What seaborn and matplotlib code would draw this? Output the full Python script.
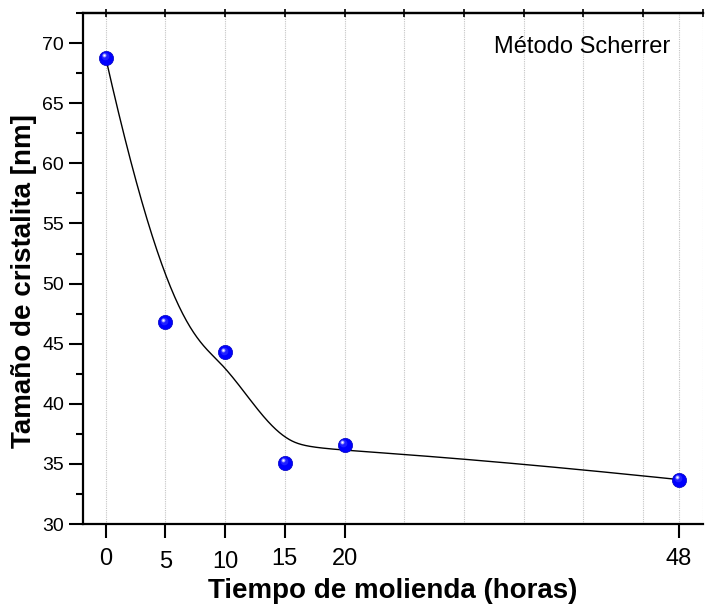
import numpy as np
import pandas as pd
import matplotlib
matplotlib.use("Agg")
import matplotlib.pyplot as plt
import matplotlib.transforms as mtransforms
from matplotlib.ticker import MultipleLocator
import seaborn as sns

# ---- data ----
tiempo_horas = [0, 5, 10, 15, 20, 48]
tamano_nm = [68.8, 46.8, 44.3, 35.1, 36.6, 33.7]
x_tick_labels = ["0", "5", "10", "15", "20", "48"]
y_ticks = [30, 35, 40, 45, 50, 55, 60, 65, 70]
x_label = "Tiempo de molienda (horas)"
y_label = "Tamaño de cristalita [nm]"
anotacion = "Método Scherrer"

sns.set_theme(style="white")
plt.rcParams["font.family"] = ["Liberation Sans", "DejaVu Sans"]
for key in ["text.color", "axes.labelcolor", "xtick.color", "ytick.color", "axes.edgecolor"]:
    plt.rcParams[key] = "black"


def bspline(xc, yc, n=400, k=3):
    """Clamped uniform B-spline using the data points as control points."""
    P = np.column_stack([xc, yc]).astype(float)
    m = len(P)
    inner = np.linspace(0, 1, m - k + 1)[1:-1]
    t = np.concatenate([np.zeros(k + 1), inner, np.ones(k + 1)])
    u = np.linspace(0, 1, n)
    u[-1] = 1 - 1e-12

    def N(i, p, uu):
        if p == 0:
            return np.where((t[i] <= uu) & (uu < t[i + 1]), 1.0, 0.0)
        a = np.zeros_like(uu)
        b = np.zeros_like(uu)
        if t[i + p] != t[i]:
            a = (uu - t[i]) / (t[i + p] - t[i]) * N(i, p - 1, uu)
        if t[i + p + 1] != t[i + 1]:
            b = (t[i + p + 1] - uu) / (t[i + p + 1] - t[i + 1]) * N(i + 1, p - 1, uu)
        return a + b

    B = np.column_stack([N(i, k, u) for i in range(m)])
    C = B @ P
    return C[:, 0], C[:, 1]


df = pd.DataFrame({"t": tiempo_horas, "d": tamano_nm})
cx, cy = bspline(tiempo_horas, tamano_nm)
curve = pd.DataFrame({"t": cx, "d": cy})

fig, ax = plt.subplots(figsize=(7.05, 6.08), dpi=100)
fig.subplots_adjust(left=0.1177, right=0.997, bottom=0.138, top=0.9786)

# grid
grid_x = list(range(0, 51, 5)) + [48]
for gx in grid_x:
    ax.axvline(gx, color="#c4c4c4", lw=0.8, ls=(0, (1, 1)), zorder=0)

sns.lineplot(data=curve, x="t", y="d", ax=ax, color="black", lw=1.0,
             sort=False, estimator=None, zorder=2)

# spherical markers
sns.scatterplot(data=df, x="t", y="d", ax=ax, s=105, color="#0000ff",
                edgecolor="#0000c0", linewidth=0.5, zorder=3)
off1 = mtransforms.ScaledTranslation(-0.8 / 72, 1.0 / 72, fig.dpi_scale_trans)
off2 = mtransforms.ScaledTranslation(-1.5 / 72, 1.8 / 72, fig.dpi_scale_trans)
ax.plot(df["t"], df["d"], "o", ms=5.5, color="#2020ff", mec="none",
        transform=ax.transData + off1, zorder=4)
ax.plot(df["t"], df["d"], "o", ms=2.8, color="#9a9aff", mec="none",
        transform=ax.transData + off2, zorder=5)
ax.plot(df["t"], df["d"], "o", ms=1.3, color="white", mec="none",
        transform=ax.transData + off2, zorder=6)

ax.set_xlim(-1.9, 50)
ax.set_ylim(30, 72.5)

ax.set_xticks(tiempo_horas)
ax.set_xticklabels(x_tick_labels)
ax.set_yticks(y_ticks)
ax.set_yticklabels([str(v) for v in y_ticks])
ax.yaxis.set_minor_locator(MultipleLocator(2.5))

ax.tick_params(axis="x", which="major", direction="out", length=10, width=1.5,
               labelsize=17, pad=7, bottom=True)
ax.tick_params(axis="y", which="major", direction="out", length=10, width=1.5,
               labelsize=14, pad=3.5, left=True)
ax.tick_params(axis="y", which="minor", direction="out", length=5, width=1.5, left=True)

# staggered labels (5 and 10 sit lower)
for i, tk in enumerate(ax.xaxis.get_major_ticks()):
    if x_tick_labels[i] in ("5", "10"):
        tk.set_pad(9.5)

# top ticks via secondary axis
top = ax.secondary_xaxis("top")
top.set_xticks(list(range(0, 51, 5)))
top.tick_params(direction="inout", length=6, width=1.2, labeltop=False)
top.spines["top"].set_linewidth(1.6)

for s in ["left", "bottom"]:
    ax.spines[s].set_linewidth(1.6)
ax.spines["top"].set_linewidth(1.6)
ax.spines["right"].set_visible(False)

ax.set_xlabel(x_label, fontsize=20, fontweight="bold")
ax.set_ylabel(y_label, fontsize=20, fontweight="bold")
ax.xaxis.set_label_coords(0.5, -0.105)
ax.yaxis.set_label_coords(-0.074, 0.475)

ax.text(0.806, 0.955, anotacion, transform=ax.transAxes, fontsize=17,
        ha="center", va="top")

fig.savefig("out.png", dpi=100)
